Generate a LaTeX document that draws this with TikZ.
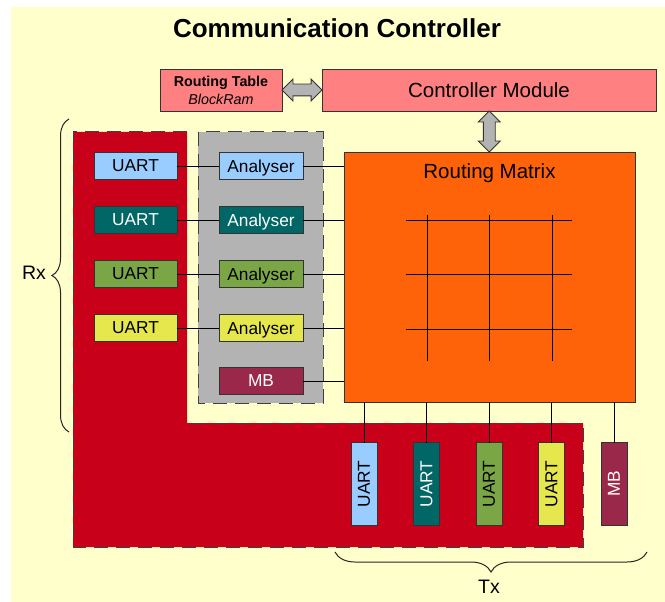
\documentclass[tikz,border=0pt]{standalone}
\usepackage{fontspec}
\setmainfont{Liberation Sans}
\usetikzlibrary{positioning,calc,shapes.arrows,decorations.pathreplacing}
\definecolor{cream}{HTML}{FFFFCC}
\definecolor{salmon}{HTML}{FF8080}
\definecolor{redzone}{HTML}{C8001A}
\definecolor{grayzone}{HTML}{B3B3B3}
\definecolor{lblue}{HTML}{99CCFF}
\definecolor{teal}{HTML}{006666}
\definecolor{olive}{HTML}{7BA646}
\definecolor{yellowb}{HTML}{E6E64D}
\definecolor{mbred}{HTML}{99284A}
\definecolor{rmorange}{HTML}{FF6309}
\begin{document}
\begin{tikzpicture}[x=1pt,y=-1pt,inner sep=0pt,outer sep=0pt,
blk/.style={draw=black!80,rectangle,line width=0.8pt,minimum width=83pt,minimum height=27pt,text depth=0pt,font=\fontsize{17.3}{20}\selectfont},
txblk/.style={blk,rotate=90,minimum height=26pt},
zone/.style={draw=black!75,line width=1pt,dash pattern=on 14pt off 8pt},
link/.style={draw=black,line width=0.8pt},
fatarrow/.style={double arrow,draw=black!80,fill=grayzone,line width=0.8pt,minimum width=21pt,inner ysep=5.5pt,inner xsep=0pt,double arrow head extend=5pt},
bracket/.style={draw=black!85,line width=1pt,decorate}]
\useasboundingbox (0,0) rectangle (665,602);
\fill[cream] (11,7) rectangle (665,602);
\node[anchor=base,font=\fontsize{26}{30}\selectfont\bfseries] (title) at (337,37.7) {Communication Controller};
% top row
\node[draw=black!80,fill=salmon,line width=0.8pt,minimum width=122pt,minimum height=42pt,align=center,font=\fontsize{14.3}{18}\selectfont] (rt) at (221,90) {\textbf{Routing Table}\\\textit{BlockRam}};
\node[draw=black!80,fill=salmon,line width=0.8pt,minimum width=334pt,minimum height=42pt,font=\fontsize{20.5}{24}\selectfont] (cm) at (489,90) {Controller Module};
% zones
\draw[zone,fill=grayzone] (198,132) rectangle (323,403);
\fill[redzone] (73,132) -- (187,132) -- (187,423) -- (583,423) -- (583,547) -- (73,547) -- cycle;
\draw[zone] (187,132) -- (73,132) -- (73,547) -- (583,547) -- (583,423) -- (187,423);
% routing matrix
\node[draw=black!80,fill=rmorange,line width=0.8pt,minimum width=291pt,minimum height=250pt] (rm) at (489.5,277) {};
\node[anchor=base,font=\fontsize{20.5}{24}\selectfont] (rmtitle) at (489.5,178.3) {Routing Matrix};
\foreach \y in {220,274,329} \draw[link] (406,\y) -- (572,\y);
\foreach \x in {427,489,552} \draw[link] (\x,215) -- (\x,361);
\node[fatarrow,minimum height=40pt] (arr1) at ($(rt.east)!0.5!(cm.west)$) {};
\node[fatarrow,minimum height=41pt,rotate=90] (arr2) at ($(cm.south)!0.5!(rm.north)$) {};
% receive side
\foreach \i/\y/\c/\t in {1/166/lblue/black,2/220/teal/white,3/274/olive/black,4/328/yellowb/black}{
  \node[blk,fill=\c,text=\t] (rxu\i) at (135.5,\y) {UART};
  \node[blk,fill=\c,text=\t,minimum width=84pt] (an\i) at (261,\y) {Analyser};
  \draw[link] (rxu\i) -- (an\i);
  \draw[link] (an\i.east) -- (an\i.east -| rm.west);
}
\node[blk,fill=mbred,text=white,minimum width=84pt] (mbin) at (261,381) {MB};
\draw[link] (mbin.east) -- (mbin.east -| rm.west);
% transmit side
\foreach \i/\x/\c/\t in {1/364/lblue/black,2/426.5/teal/white,3/489/olive/black,4/551.5/yellowb/black}{
  \node[txblk,fill=\c,text=\t] (txu\i) at (\x,484) {UART};
  \draw[link] (txu\i.east) -- (txu\i.east |- rm.south);
}
\node[txblk,fill=mbred,text=white] (mbout) at (614,484) {MB};
\draw[link] (mbout.east) -- (mbout.east |- rm.south);
% braces
\draw[bracket,decoration={brace,amplitude=17pt}] (69,432) -- (69,119);
\node[font=\fontsize{19.5}{22}\selectfont] (rx) at (34,273) {Rx};
\draw[bracket,decoration={brace,amplitude=20pt}] (647,552) -- (335,552);
\node[font=\fontsize{19.5}{22}\selectfont] (tx) at (489,587) {Tx};
\end{tikzpicture}
\end{document}
